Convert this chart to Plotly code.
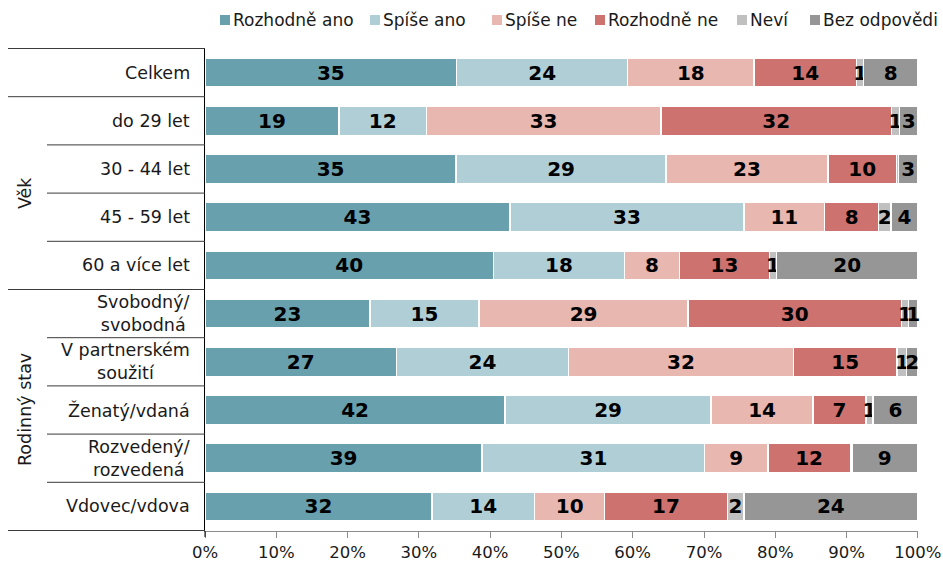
import plotly.graph_objects as go

# ---- data ----
categories = ["Celkem",
              "do 29 let", "30 - 44 let", "45 - 59 let", "60 a více let",
              "Svobodný/<br>svobodná", "V partnerském<br>soužití", "Ženatý/vdaná",
              "Rozvedený/<br>rozvedená", "Vdovec/vdova"]
groups = [("", 1), ("Věk", 4), ("Rodinný stav", 5)]

series_names = ["Rozhodně ano", "Spíše ano", "Spíše ne", "Rozhodně ne", "Neví", "Bez odpovědi"]
rozhodne_ano = [35.3, 18.8, 35.2, 42.8, 40.4, 23.1, 26.9, 42.1, 39.0, 31.8]
spise_ano    = [24.0, 12.3, 29.4, 32.9, 18.4, 15.3, 24.2, 28.9, 31.3, 14.4]
spise_ne     = [17.7, 32.9, 22.7, 11.3,  7.7, 29.3, 31.6, 14.3,  8.9,  9.8]
rozhodne_ne  = [14.4, 32.4,  9.6,  7.6, 12.6, 29.9, 14.6,  7.4, 11.6, 17.2]
nevi         = [ 1.0,  1.1,  0.3,  1.7,  1.0,  1.0,  1.3,  1.0,  0.2,  2.3]
bez_odpovedi = [ 7.6,  2.6,  2.7,  3.8, 19.8,  1.3,  1.6,  6.3,  9.3, 24.4]
series_values = [rozhodne_ano, spise_ano, spise_ne, rozhodne_ne, nevi, bez_odpovedi]
x_ticks = [0, 10, 20, 30, 40, 50, 60, 70, 80, 90, 100]

colors = ["#68A0AE", "#B0CED6", "#E8B7B0", "#CD726E", "#C0C0C0", "#969696"]
FONT = "DejaVu Sans"

# layout geometry (pixels)
W, H = 943, 562
ML, MR, MT, MB = 205, 25, 48, 31
PW, PH = W - ML - MR, H - MT - MB
def px_x(px):
    return (px - ML) / PW
def px_y(py):
    return (H - MB - py) / PH

legend_square_left = [220, 370, 492, 595, 737, 810]  # legend item positions (px)

fig = go.Figure()
for name, vals, col in zip(series_names, series_values, colors):
    fig.add_trace(go.Bar(
        y=categories, x=vals, name=name, orientation="h",
        marker=dict(color=col, line=dict(color="white", width=1.5)),
        width=0.6,
        text=[f"{v:.0f}" if v >= 0.5 else "" for v in vals],
        textposition="inside", insidetextanchor="middle", textangle=0,
        constraintext="none",
        textfont=dict(family=FONT, size=20, color="black", weight="bold"),
        cliponaxis=False, hoverinfo="skip", showlegend=False,
    ))

fig.update_layout(
    barmode="stack", barnorm="percent",
    width=W, height=H,
    margin=dict(l=ML, r=MR, t=MT, b=MB, autoexpand=False),
    paper_bgcolor="white", plot_bgcolor="white",
    font=dict(family=FONT, color="#1a1a1a"),
    uniformtext=dict(minsize=20, mode="show"),
    showlegend=False,
)
fig.update_xaxes(range=[0, 100.02], tickvals=x_ticks, ticktext=[f"{t}%" for t in x_ticks],
                 showgrid=False, zeroline=False, showline=True, linecolor="#8c8c8c",
                 linewidth=1, ticks="outside", ticklen=6, tickcolor="#8c8c8c",
                 tickfont=dict(size=16.5, family=FONT, color="#1a1a1a"), fixedrange=True)
fig.update_yaxes(type="category", autorange="reversed", showticklabels=False,
                 showgrid=False, zeroline=False, showline=True, linecolor="black",
                 linewidth=1, ticks="")

# y-axis line extension below the plot
fig.add_shape(type="line", xref="paper", yref="paper", x0=0, x1=0, y0=0, y1=px_y(H - MB + 6),
              line=dict(color="black", width=1))

# manual legend (single row)
for name, col, sx in zip(series_names, colors, legend_square_left):
    fig.add_shape(type="rect", xref="paper", yref="paper",
                  x0=px_x(sx), x1=px_x(sx + 10), y0=px_y(25), y1=px_y(15),
                  line=dict(width=0), fillcolor=col)
    fig.add_annotation(xref="paper", yref="paper", x=px_x(sx + 11), y=px_y(19.5),
                       text=name, showarrow=False, xanchor="left", yanchor="middle",
                       font=dict(size=17, family=FONT, color="#1a1a1a"))

# category labels
for c in categories:
    fig.add_annotation(x=0, xref="paper", y=c, yref="y", text=c, showarrow=False,
                       xanchor="right", xshift=-13, align="center",
                       font=dict(size=17.5, family=FONT, color="#1a1a1a"))

# separators and group labels
full_x0 = px_x(8)
short_x0 = px_x(47)
line_col = "#3a3a3a"
start = 0
fig.add_shape(type="line", xref="paper", yref="y", x0=full_x0, x1=0,
              y0=-0.5, y1=-0.5, line=dict(color=line_col, width=1))
for gname, n in groups:
    for k in range(1, n):
        yy = start + k - 0.5
        fig.add_shape(type="line", xref="paper", yref="y", x0=short_x0, x1=0,
                      y0=yy, y1=yy, line=dict(color=line_col, width=1))
    yend = start + n - 0.5
    fig.add_shape(type="line", xref="paper", yref="y", x0=full_x0, x1=0,
                  y0=yend, y1=yend, line=dict(color=line_col, width=1))
    if gname:
        fig.add_annotation(x=px_x(13), xref="paper", y=start + (n - 1) / 2, yref="y",
                           text=gname, textangle=-90, showarrow=False, xanchor="left",
                           font=dict(size=17.5, family=FONT, color="#1a1a1a"))
    start += n

fig.write_html("out.html", config={"displayModeBar": False},
               post_script="document.body.style.margin='0';document.body.style.overflow='hidden';")
